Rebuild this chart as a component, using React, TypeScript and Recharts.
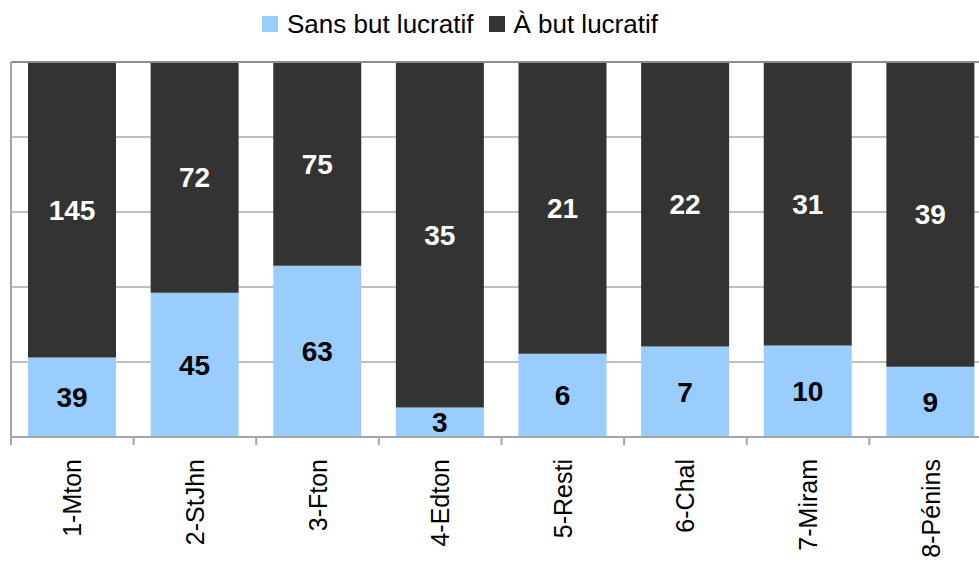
import React from "react";
import {
  BarChart,
  Bar,
  XAxis,
  YAxis,
  CartesianGrid,
  LabelList,
  ReferenceLine,
} from "recharts";

const categories = ["1-Mton", "2-StJhn", "3-Fton", "4-Edton", "5-Resti", "6-Chal", "7-Miram", "8-Pénins"];
const sansBut = [39, 45, 63, 3, 6, 7, 10, 9];
const aBut = [145, 72, 75, 35, 21, 22, 31, 39];
const yTicks = [0, 0.2, 0.4, 0.6, 0.8, 1];
const seriesNames = ["Sans but lucratif", "À but lucratif"];
const seriesColors = ["#99ccff", "#333333"];

const data = categories.map((name, i) => ({ name, sans: sansBut[i], abut: aBut[i] }));

const FONT = "Arial, 'Liberation Sans', Helvetica, sans-serif";
const TICK_SIZE = 8;
const TICK_MARGIN = 14;

const CategoryTick = (props: any) => {
  const { x, y, payload, width, visibleTicksCount } = props;
  const band = width && visibleTicksCount ? width / visibleTicksCount : 122.6;
  const lineX = x - band / 2;
  return (
    <g>
      <line
        x1={lineX}
        x2={lineX}
        y1={y - TICK_MARGIN - TICK_SIZE}
        y2={y - TICK_MARGIN}
        stroke="#a6a6a6"
        strokeWidth={2}
      />
      <text
        x={x}
        y={y}
        transform={`rotate(-90, ${x}, ${y})`}
        textAnchor="end"
        dominantBaseline="central"
        fontSize={25}
        fontFamily={FONT}
        fill="#000"
      >
        {payload.value}
      </text>
    </g>
  );
};

const LegendBox = () => (
  <div
    style={{
      position: "absolute",
      top: 9,
      left: 262,
      display: "flex",
      alignItems: "center",
      fontFamily: FONT,
      fontSize: 26,
      color: "#000",
      lineHeight: "30px",
      whiteSpace: "nowrap",
    }}
  >
    {seriesNames.map((n, i) => (
      <div key={n} style={{ display: "flex", alignItems: "center", marginRight: i === 0 ? 16 : 0 }}>
        <div style={{ width: 16, height: 16, background: seriesColors[i], marginRight: i === 0 ? 9 : 8 }} />
        <span>{n}</span>
      </div>
    ))}
  </div>
);

export default function App() {
  return (
    <div
      style={{
        position: "absolute",
        left: 0,
        top: 0,
        width: 979,
        height: 564,
        overflow: "hidden",
        background: "#fff",
      }}
    >
      <BarChart
        width={1000}
        height={564}
        data={data}
        stackOffset="expand"
        margin={{ top: 62, right: 8, left: 10, bottom: 0 }}
        barSize={88}
      >
        <CartesianGrid vertical={false} stroke="#c0c0c0" strokeWidth={2} />
        <ReferenceLine y={1} stroke="#8c8c8c" strokeWidth={2} />
        <XAxis
          dataKey="name"
          height={127}
          interval={0}
          tickSize={TICK_SIZE}
          tickMargin={TICK_MARGIN}
          tickLine={false}
          axisLine={{ stroke: "#a6a6a6", strokeWidth: 2 }}
          tick={<CategoryTick />}
        />
        <YAxis
          type="number"
          domain={[0, 1]}
          ticks={yTicks}
          width={1}
          tick={() => null}
          tickLine={false}
          axisLine={{ stroke: "#a6a6a6", strokeWidth: 2 }}
        />
        <Bar dataKey="sans" name={seriesNames[0]} stackId="a" fill={seriesColors[0]} isAnimationActive={false}>
          <LabelList
            dataKey="sans"
            position="center"
            fill="#000"
            fontSize={28}
            fontWeight="bold"
            fontFamily={FONT}
          />
        </Bar>
        <Bar dataKey="abut" name={seriesNames[1]} stackId="a" fill={seriesColors[1]} isAnimationActive={false}>
          <LabelList
            dataKey="abut"
            position="center"
            fill="#fff"
            fontSize={28}
            fontWeight="bold"
            fontFamily={FONT}
          />
        </Bar>
      </BarChart>
      <LegendBox />
    </div>
  );
}
